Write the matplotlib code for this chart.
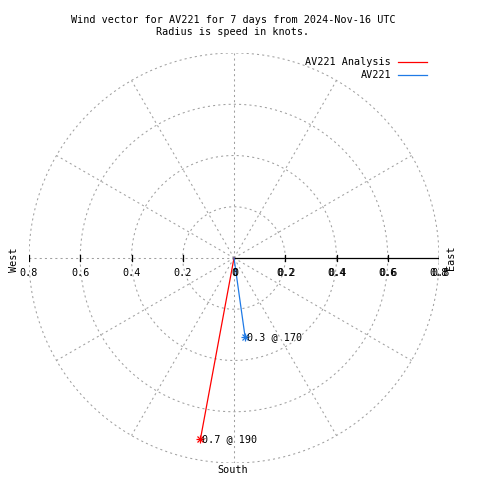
import numpy as np
import matplotlib
matplotlib.use("Agg")
import matplotlib.pyplot as plt

# dados do vetor de vento
series = ["AV221 Analysis", "AV221"]
speed = [0.72, 0.31]          # nós
direction = [190.5, 172.0]    # graus (bússola)
point_labels = ["0.7 @ 190", "0.3 @ 170"]
colors = ["#ff0000", "#1f7ae6"]

rings = [0.2, 0.4, 0.6, 0.8]
spokes = np.arange(0, 360, 30)
tick_vals = [0.2, 0.4, 0.6, 0.8]

title = "Wind vector for AV221 for 7 days from 2024-Nov-16 UTC\nRadius is speed in knots."

mono = "DejaVu Sans Mono"
fs = 7.3
grid_kw = dict(color="#a0a0a0", lw=0.75, linestyle=(0, (2, 3)))

fig = plt.figure(figsize=(4.8, 4.8), dpi=100)
ax = fig.add_axes([29 / 480, 17 / 480, 410 / 480, 410 / 480])
ax.set_xlim(-0.8, 0.8)
ax.set_ylim(-0.8, 0.8)
ax.set_aspect("equal")
ax.axis("off")

# grade polar
t = np.linspace(0, 2 * np.pi, 361)
for r in rings:
    ax.plot(r * np.cos(t), r * np.sin(t), **grid_kw)
for a in spokes:
    if a == 90:
        continue  # eixo leste desenhado em preto
    ang = np.deg2rad(a)
    ax.plot([0, 0.8 * np.sin(ang)], [0, 0.8 * np.cos(ang)], **grid_kw)

# eixo leste
ax.plot([0, 0.8], [0, 0], color="black", lw=0.9)
tk = 3 / 256
for v in tick_vals:
    ax.plot([v, v], [-tk, tk], color="black", lw=0.9)
    ax.plot([-v, -v], [-tk, tk], color="black", lw=0.9)

# rótulos dos ticks
for v in [0] + tick_vals:
    lab = "0" if v == 0 else f"{v:.1f}"
    ax.text(v, -0.058, lab, ha="center", va="center", family=mono, fontsize=fs)
    ax.text(v + 1.2 / 256, -0.058, lab, ha="center", va="center", family=mono, fontsize=fs)
for v in tick_vals:
    ax.text(-v, -0.058, f"{v:.1f}", ha="center", va="center", family=mono, fontsize=fs)

# vetores
for s, d, lab, c in zip(speed, direction, point_labels, colors):
    ang = np.deg2rad(d)
    x, y = s * np.sin(ang), s * np.cos(ang)
    ax.plot([0, x], [0, y], color=c, lw=0.9)
    ax.plot(x, y, marker="+", color=c, ms=6, mew=0.9)
    ax.plot(x, y, marker="x", color=c, ms=4.5, mew=0.9)
    ax.text(x + 2 / 256, y, lab, ha="left", va="center", family=mono, fontsize=fs)

# textos
fig.text(233 / 480, 1 - 26 / 480, title, ha="center", va="center", family=mono,
         fontsize=fs, linespacing=1.15)
fig.text(14 / 480, 1 - 260 / 480, "West", rotation=90, ha="center", va="center",
         family=mono, fontsize=fs)
fig.text(451 / 480, 1 - 258 / 480, "East", rotation=90, ha="center", va="center",
         family=mono, fontsize=fs)
fig.text(233 / 480, 1 - 470 / 480, "South", ha="center", va="center", family=mono,
         fontsize=fs)

# legenda
for i, (name, c) in enumerate(zip(series, colors)):
    yy = 1 - (62 + 13 * i) / 480
    fig.text(391 / 480, yy, name, ha="right", va="center", family=mono, fontsize=fs)
    fig.add_artist(plt.Line2D([398 / 480, 427 / 480], [yy, yy], color=c, lw=0.9))

fig.savefig("out.png", dpi=100)
